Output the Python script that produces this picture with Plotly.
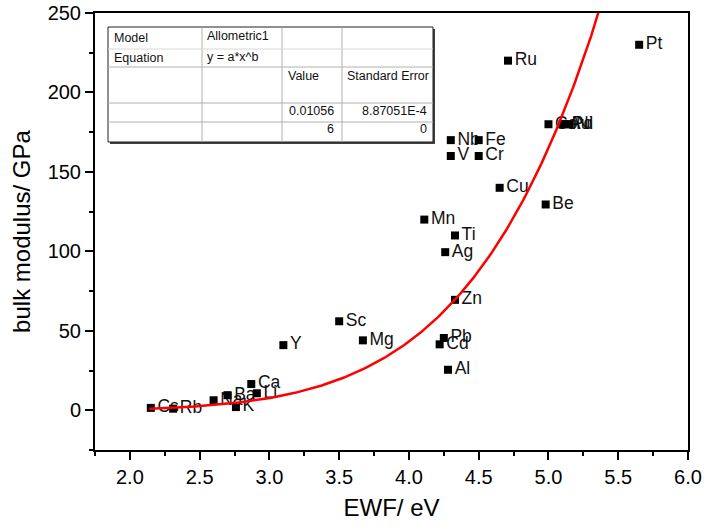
import plotly.graph_objects as go
import numpy as np

# ---- data ----
elements = ["Cs", "Rb", "Na", "Ba", "K", "Ca", "Li", "Y", "Sc", "Mg",
            "Mn", "Ti", "Ag", "Zn", "Pb", "Cd", "Al", "Nb", "V", "Fe",
            "Cr", "Cu", "Be", "Ru", "Co", "Au", "Pd", "Ni", "Pt"]
ewf = [2.15, 2.31, 2.60, 2.70, 2.76, 2.87, 2.91, 3.10, 3.50, 3.67,
       4.11, 4.33, 4.26, 4.33, 4.25, 4.22, 4.28, 4.30, 4.30, 4.50,
       4.50, 4.65, 4.98, 4.71, 5.00, 5.10, 5.12, 5.15, 5.65]
bulk = [1.5, 1.0, 6.3, 9.5, 2.0, 16.5, 10.7, 41, 56, 44,
        120, 110, 99.5, 69.5, 45.5, 41.5, 25.5, 170, 160, 170,
        160, 140, 129.5, 220, 180, 180, 180, 180, 230]

# fit parameters (Allometric1: y = a*x^b) from the table
fit_a = 0.01056
fit_b = 6
fit_a_err = "8.87051E-4"
fit_b_err = "0"
fit_x_start, fit_x_end = 2.14, 5.45

x_ticks = [2.0, 2.5, 3.0, 3.5, 4.0, 4.5, 5.0, 5.5, 6.0]
y_ticks = [0, 50, 100, 150, 200, 250]

FONT = "Liberation Sans, Arial, sans-serif"

W, H = 704, 529
L, R, T, B = 95, 688, 13, 450   # plot area in pixels

fig = go.Figure()

# labels (drawn first so squares sit on top, as in reference)
fig.add_trace(go.Scatter(
    x=ewf, y=bulk, mode="markers+text", text=elements,
    textposition="middle right",
    marker=dict(symbol="square", size=9, color="rgba(0,0,0,0)"),
    textfont=dict(family=FONT, size=17.5, color="#111111"),
    cliponaxis=False, hoverinfo="skip", showlegend=False))

fig.add_trace(go.Scatter(
    x=ewf, y=bulk, mode="markers",
    marker=dict(symbol="square", size=8, color="black", line=dict(width=0)),
    showlegend=False))

fx = np.linspace(fit_x_start, fit_x_end, 300)
fy = fit_a * fx ** fit_b
fig.add_trace(go.Scatter(x=fx, y=fy, mode="lines",
                         line=dict(color="#ff0000", width=2.5),
                         showlegend=False))

# ---- table box ----
def px(xp):
    return (xp - L) / (R - L)

def py(yp):
    return (B - yp) / (B - T)

shapes = []
tl, tr, tt, tb = 108, 433, 27, 142
shapes.append(dict(type="rect", xref="paper", yref="paper",
                   x0=px(tl + 2), x1=px(tr + 2), y0=py(tb + 2), y1=py(tt + 2),
                   fillcolor="#404040", line=dict(width=0)))
shapes.append(dict(type="rect", xref="paper", yref="paper",
                   x0=px(tl), x1=px(tr), y0=py(tb), y1=py(tt),
                   fillcolor="white", line=dict(color="#202020", width=1)))
for cx in [202, 282, 342]:
    shapes.append(dict(type="line", xref="paper", yref="paper",
                       x0=px(cx), x1=px(cx), y0=py(tb), y1=py(tt),
                       line=dict(color="#b0b0b0", width=1)))
for ry, col in [(49, "#d8d8d8"), (67, "#b0b0b0"), (103, "#b0b0b0"), (122, "#b0b0b0")]:
    shapes.append(dict(type="line", xref="paper", yref="paper",
                       x0=px(tl), x1=px(tr), y0=py(ry), y1=py(ry),
                       line=dict(color=col, width=1)))

cells = [
    ("Model", 112, 38, "left"),
    ("Allometric1", 205, 36, "left"),
    ("Equation", 112, 58, "left"),
    ("y = a*x^b", 205, 57, "left"),
    ("Value", 286, 76, "left"),
    ("Standard Error", 345, 76, "left"),
    (str(fit_a), 336, 111, "right"),
    (fit_a_err, 429, 111, "right"),
    (str(fit_b), 336, 129, "right"),
    (fit_b_err, 429, 129, "right"),
]
annotations = []
for txt, xp, yp, al in cells:
    annotations.append(dict(text=txt, xref="paper", yref="paper",
                            x=px(xp), y=py(yp), xanchor=al, yanchor="middle",
                            showarrow=False,
                            font=dict(family=FONT, size=12.5, color="#111111")))

axis_common = dict(showline=True, linecolor="black", linewidth=2, mirror=True,
                   ticks="outside", ticklen=8, tickwidth=1.5, tickcolor="black",
                   showgrid=False, zeroline=False, automargin=False,
                   tickfont=dict(family=FONT, size=20, color="black"),
                   title_font=dict(family=FONT, size=24, color="black"))

fig.update_layout(
    template="none",
    width=W, height=H,
    margin=dict(l=L, r=W - R, t=T, b=H - B, pad=0),
    plot_bgcolor="white", paper_bgcolor="white",
    shapes=shapes, annotations=annotations,
    xaxis=dict(range=[1.75, 6.0], tickvals=x_ticks,
               ticktext=[f"{v:.1f}" for v in x_ticks],
               minor=dict(dtick=0.25, tick0=1.75, ticks="outside", ticklen=4,
                          tickcolor="black", tickwidth=1.5),
               title=dict(text="EWF/ eV", standoff=12), **axis_common),
    yaxis=dict(range=[-25, 250], tickvals=y_ticks,
               ticktext=[str(v) for v in y_ticks],
               minor=dict(dtick=25, tick0=0, ticks="outside", ticklen=4,
                          tickcolor="black", tickwidth=1.5),
               title=dict(text="bulk modulus/ GPa", standoff=10), **axis_common),
)

fig.write_html("out.html")
